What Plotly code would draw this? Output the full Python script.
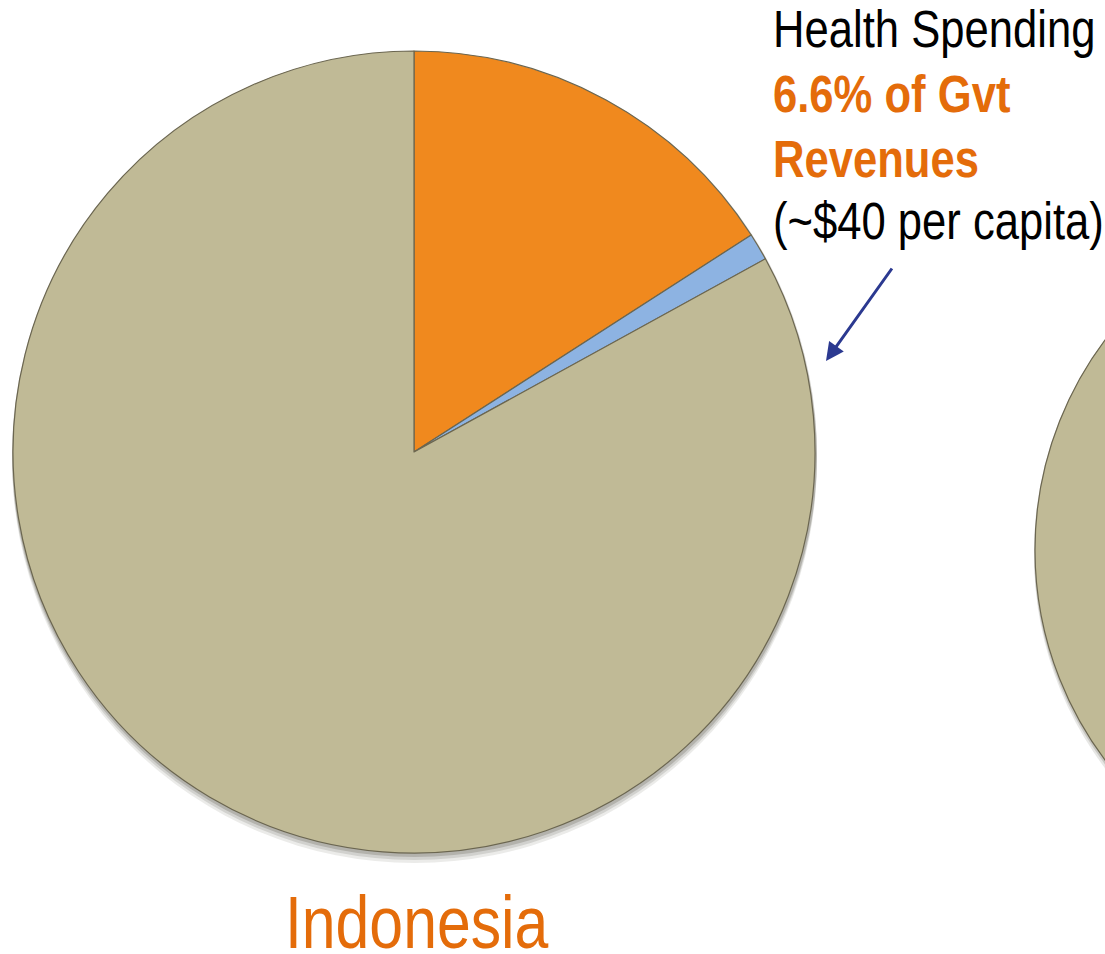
import plotly.graph_objects as go

W, H = 1105, 954

# Indonesia: shares of government revenue
labels = ["Other spending", "Health Spending", "Other revenue use"]
values = [15.9, 1.1, 83.0]
colors = ["#F0891E", "#8DB3E2", "#C0BA96"]

country = "Indonesia"
note_lines = ["Health Spending", "6.6% of Gvt", "Revenues", "(~$40 per capita)"]
note_bold = [False, True, True, False]

ORANGE_TEXT = "#E46C0A"
FONT = "Liberation Sans, Arial, sans-serif"
NOTE_SIZE = 51
TITLE_SIZE = 75
# horizontal squeeze that gives the labels a narrow (Arial Narrow-like) look
NOTE_SQUEEZE = 0.855
TITLE_SQUEEZE = 0.81

# pie geometry in pixels
cx, cy, r = 414, 452, 401


def px(x):
    return x / W


def py(y):
    return 1 - y / H


fig = go.Figure()
fig.add_trace(go.Pie(
    labels=labels,
    values=values,
    sort=False,
    direction="clockwise",
    rotation=0,
    marker=dict(colors=colors, line=dict(color="#6B6650", width=1.2)),
    textinfo="none",
    hoverinfo="label+percent",
    showlegend=False,
    domain=dict(x=[px(cx - r), px(cx + r)], y=[py(cy + r), py(cy - r)]),
))

shapes = []
# soft drop shadow under the pie
for off, op in [(10, 0.10), (7, 0.14), (4, 0.20)]:
    shapes.append(dict(
        type="circle", xref="paper", yref="paper", layer="below",
        x0=px(cx - r - 1), x1=px(cx + r + 2),
        y0=py(cy + r + off), y1=py(cy - r + off - 4),
        fillcolor=f"rgba(60,55,40,{op})", line=dict(width=0),
    ))

# neighbouring pie, mostly off the right edge
c2x, c2y, r2 = 1385, 550, 350
for off, op in [(8, 0.12), (4, 0.18)]:
    shapes.append(dict(
        type="circle", xref="paper", yref="paper", layer="below",
        x0=px(c2x - r2 - 1), x1=px(c2x + r2 + 1),
        y0=py(c2y + r2 + off), y1=py(c2y - r2 + off - 4),
        fillcolor=f"rgba(60,55,40,{op})", line=dict(width=0),
    ))
shapes.append(dict(
    type="circle", xref="paper", yref="paper", layer="above",
    x0=px(c2x - r2), x1=px(c2x + r2),
    y0=py(c2y + r2), y1=py(c2y - r2),
    fillcolor=colors[2], line=dict(color="#6B6650", width=1.2),
))

annotations = []
# note lines, one annotation per line (baselines at 48, 113, 178, 240 px)
note_baselines = [48, 113, 178, 240]
for line, bold, base in zip(note_lines, note_bold, note_baselines):
    annotations.append(dict(
        text=f"<b>{line}</b>" if bold else line,
        xref="paper", yref="paper",
        x=px(771), y=py(base - 0.358 * NOTE_SIZE),
        xanchor="left", yanchor="middle", align="left", showarrow=False,
        font=dict(family=FONT, size=NOTE_SIZE,
                  color=ORANGE_TEXT if bold else "#000000"),
    ))

annotations.append(dict(
    text="", xref="paper", yref="paper",
    x=px(826), y=py(361), ax=67, ay=-94,
    showarrow=True, arrowhead=2, arrowsize=1.2, arrowwidth=3,
    arrowcolor="#2B3990",
))
annotations.append(dict(
    text=country, xref="paper", yref="paper",
    x=px(417), y=py(949 - 0.358 * TITLE_SIZE), xanchor="center", yanchor="middle",
    showarrow=False,
    font=dict(family=FONT, size=TITLE_SIZE, color=ORANGE_TEXT),
))

fig.update_layout(
    width=W, height=H,
    margin=dict(l=0, r=0, t=0, b=0),
    paper_bgcolor="white", plot_bgcolor="white",
    shapes=shapes, annotations=annotations,
)

n_note = len(note_lines)
title_idx = len(annotations) - 1
note_sel = ", ".join(
    f'g.annotation[data-index="{i}"] text.annotation-text' for i in range(n_note)
)
title_sel = f'g.annotation[data-index="{title_idx}"] text.annotation-text'
css = (
    f"{note_sel} {{ transform-box: fill-box; transform-origin: 0% 50%; "
    f"transform: scaleX({NOTE_SQUEEZE}); }} "
    f"{title_sel} {{ transform-box: fill-box; transform-origin: 50% 50%; "
    f"transform: scaleX({TITLE_SQUEEZE}); }}"
)
post_js = (
    "var st = document.createElement('style');"
    f"st.textContent = {css!r};"
    "document.head.appendChild(st);"
)

fig.write_html("out.html", post_script=post_js)
